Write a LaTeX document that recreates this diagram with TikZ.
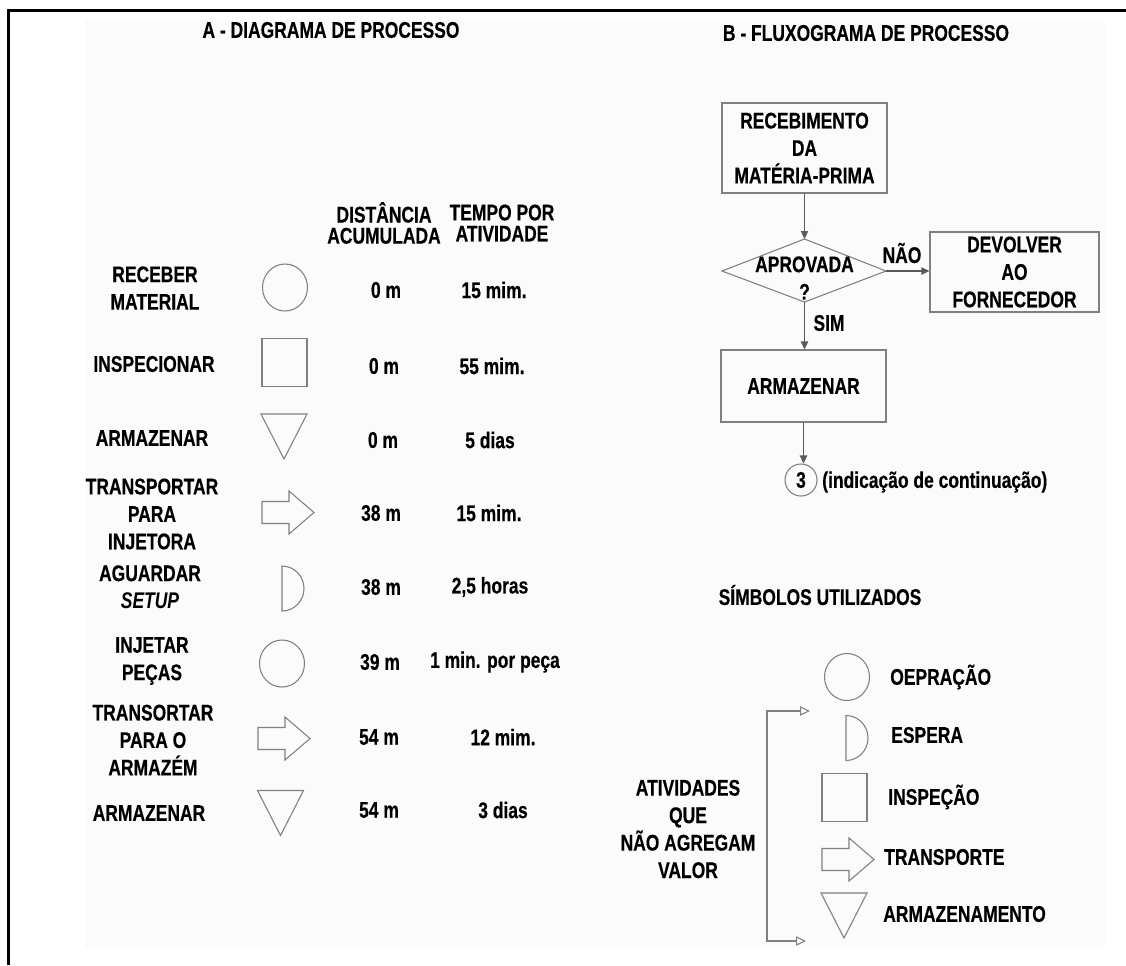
\documentclass[tikz,border=0pt]{standalone}
\usepackage{fontspec}
\setmainfont{Liberation Sans}[FakeStretch=0.77, BoldFeatures={FakeBold=0.4}]
\usetikzlibrary{arrows.meta}
\definecolor{symgray}{rgb}{0.50,0.50,0.50}
\definecolor{linegray}{rgb}{0.35,0.35,0.35}
\definecolor{paper}{rgb}{0.985,0.985,0.985}

\begin{document}
\begin{tikzpicture}[x=0.75pt,y=-0.75pt,
  txt/.style={font=\fontsize{17}{20.6}\selectfont\bfseries, align=center, inner sep=0pt},
  hdr/.style={txt, font=\fontsize{17}{15.8}\selectfont\bfseries},
  leg/.style={txt, anchor=west},
  sym/.style={draw=symgray, line width=0.8pt},
  box/.style={txt, draw=symgray, line width=0.8pt, rectangle},
  flow/.style={draw=linegray, line width=0.8pt, -{Triangle[length=6pt,width=5.5pt]}},
  brk/.style={draw=symgray, line width=0.8pt,
    {Triangle[open,length=7.5pt,width=7pt,fill=white]}-{Triangle[open,length=7.5pt,width=7pt,fill=white]}},
  opsym/.pic={\draw[sym] (0,0) ellipse [x radius=22.5, y radius=23.5];},
  inspsym/.pic={\draw[sym] (-22.5,-24) rectangle (22.5,24);},
  storsym/.pic={\draw[sym] (-23,-22.5) -- (23,-22.5) -- (0,22.5) -- cycle;},
  waitsym/.pic={\draw[sym] (0,-22.5) arc[start angle=-90, end angle=90, x radius=22, y radius=22.5] -- cycle;},
  movesym/.pic={\draw[sym] (0,-11) -- (27,-11) -- (27,-21.5) -- (52,0) -- (27,21.5) -- (27,11) -- (0,11) -- cycle;}
]
\useasboundingbox (0,0) rectangle (1126,965);

% sheet and frame
\fill[paper] (85,20) rectangle (1105,948);
\draw[line width=2.25pt] (8,965) -- (8,10) -- (1126,10);

% ---------- A: process chart ----------
\node[txt] (titA) at (331,30) {A - DIAGRAMA DE PROCESSO};
\node[hdr] (hdist) at (384,223) {DISTÂNCIA\\ACUMULADA};
\node[hdr] (htime) at (502,223) {TEMPO POR\\ATIVIDADE};

\node[txt] (l1) at (155,288) {RECEBER\\MATERIAL};
\node[txt] (l2) at (154,364) {INSPECIONAR};
\node[txt] (l3) at (152,438) {ARMAZENAR};
\node[txt] (l4) at (152,514) {TRANSPORTAR\\PARA\\INJETORA};
\node[txt] (l5) at (150,587) {AGUARDAR\\\textit{SETUP}};
\node[txt] (l6) at (152,661) {INJETAR\\PEÇAS};
\node[txt] (l7) at (153,740) {TRANSORTAR\\PARA O\\ARMAZÉM};
\node[txt] (l8) at (149,813) {ARMAZENAR};

\pic at (285,287.5) {opsym};
\pic at (284.5,362.5) {inspsym};
\pic at (284,436.5) {storsym};
\pic at (262,512.5) {movesym};
\pic at (282,588.5) {waitsym};
\pic at (282,663.5) {opsym};
\pic at (258,738.5) {movesym};
\pic at (280.5,813) {storsym};

\node[txt] (d1) at (386,290) {0 m};
\node[txt] (d2) at (384,366) {0 m};
\node[txt] (d3) at (383,440) {0 m};
\node[txt] (d4) at (381,513) {38 m};
\node[txt] (d5) at (381,587) {38 m};
\node[txt] (d6) at (380,662) {39 m};
\node[txt] (d7) at (379,737) {54 m};
\node[txt] (d8) at (379,810) {54 m};

\node[txt] (t1) at (494,290) {15 mim.};
\node[txt] (t2) at (492,366) {55 mim.};
\node[txt] (t3) at (490,440) {5 dias};
\node[txt] (t4) at (489,513) {15 mim.};
\node[txt] (t5) at (490,587) {2,5 horas};
\node[txt] (t6) at (495,662) {1 min. por peça};
\node[txt] (t7) at (503,737) {12 mim.};
\node[txt] (t8) at (503,810) {3 dias};

% ---------- B: process flowchart ----------
\node[txt] (titB) at (866,33) {B - FLUXOGRAMA DE PROCESSO};

\node[box, minimum width=123.75pt, minimum height=67.5pt] (rec) at (804.5,148)
  {RECEBIMENTO\\DA\\MATÉRIA-PRIMA};

\coordinate (decW) at (722,271);
\coordinate (decN) at (804.5,239);
\coordinate (decE) at (886,271);
\coordinate (decS) at (804.5,302);
\draw[sym] (decW) -- (decN) -- (decE) -- (decS) -- cycle;
\node[txt] (decT) at (804.5,278) {APROVADA\\?};

\node[box, minimum width=126.75pt, minimum height=60pt] (dev) at (1014.5,272)
  {DEVOLVER\\AO\\FORNECEDOR};
\node[box, minimum width=123.75pt, minimum height=54pt] (arm) at (803.5,386) {ARMAZENAR};
\node[txt, draw=symgray, line width=0.8pt, circle, minimum size=24pt] (c3) at (801,480) {3};
\node[txt, anchor=west] (cont) at (822,482) {(indicação de continuação)};

\draw[flow] (rec.south -| decN) -- (decN);
\draw[flow] (decE) -- (dev.west |- decE);
\draw[flow] (decS) -- (decS |- arm.north);
\draw[flow] (arm.south) -- (arm.south |- c3.north);

\node[txt] (nao) at (902,253) {NÃO};
\node[txt] (sim) at (829,323) {SIM};

% ---------- legend ----------
\node[txt] (titS) at (820,595) {SÍMBOLOS UTILIZADOS};

\pic at (847,677) {opsym};
\pic at (846,738) {waitsym};
\pic at (844.5,797.5) {inspsym};
\pic at (822,859.5) {movesym};
\pic at (844,915.5) {storsym};

\node[leg] (sOp) at (890,677) {OEPRAÇÃO};
\node[leg] (sWait) at (891,735) {ESPERA};
\node[leg] (sInsp) at (888,797) {INSPEÇÃO};
\node[leg] (sMove) at (884,857) {TRANSPORTE};
\node[leg] (sStor) at (883,914) {ARMAZENAMENTO};

\node[txt] (nav) at (688,829) {ATIVIDADES\\QUE\\NÃO AGREGAM\\VALOR};

\coordinate (brkTop) at (810,711);
\coordinate (brkTL) at (767,711);
\coordinate (brkBL) at (767,941);
\coordinate (brkBot) at (806,941);
\draw[brk] (brkTop) -- (brkTL) -- (brkBL) -- (brkBot);

\end{tikzpicture}
\end{document}
